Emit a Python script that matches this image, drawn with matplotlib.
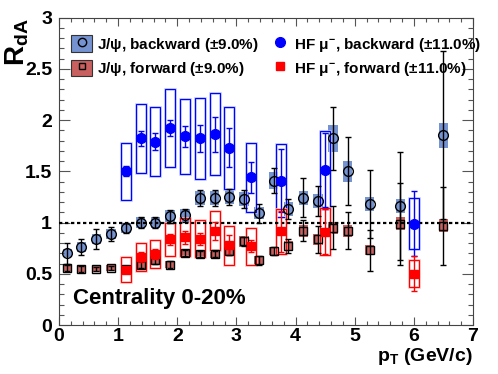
import matplotlib
matplotlib.use("Agg")
import matplotlib.pyplot as plt
from matplotlib.lines import Line2D
from matplotlib.patches import Rectangle
from matplotlib.ticker import MultipleLocator
import numpy as np

plt.rcParams["font.family"] = ["Liberation Sans", "DejaVu Sans"]
plt.rcParams["font.weight"] = "bold"
plt.rcParams["axes.labelweight"] = "bold"
plt.rcParams["mathtext.fontset"] = "custom"
plt.rcParams["mathtext.rm"] = "Liberation Sans:bold"
plt.rcParams["mathtext.it"] = "Liberation Sans:bold"
plt.rcParams["mathtext.bf"] = "Liberation Sans:bold"

# ── J/psi (backward / forward share the pT bins) ─────────────────────────────
jpsi_pt = [0.14, 0.38, 0.63, 0.88, 1.13, 1.38, 1.63, 1.88, 2.13, 2.38, 2.63, 2.88,
           3.13, 3.38, 3.63, 3.88, 4.13, 4.38, 4.63, 4.88, 5.25, 5.77, 6.5]

jpsi_bwd      = [0.70, 0.76, 0.84, 0.89, 0.95, 1.00, 1.00, 1.06, 1.07, 1.24, 1.24, 1.25,
                 1.23, 1.09, 1.41, 1.13, 1.24, 1.21, 1.82, 1.50, 1.18, 1.16, 1.85]
jpsi_bwd_stat = [0.10, 0.08, 0.10, 0.07, 0.05, 0.05, 0.05, 0.06, 0.06, 0.08, 0.08, 0.08,
                 0.09, 0.09, 0.12, 0.10, 0.19, 0.15, 0.31, 0.33, 0.33, 0.53, 0.82]
jpsi_bwd_syst = [0.04, 0.05, 0.05, 0.05, 0.05, 0.05, 0.05, 0.06, 0.06, 0.07, 0.07, 0.07,
                 0.07, 0.06, 0.08, 0.07, 0.07, 0.07, 0.13, 0.10, 0.07, 0.07, 0.12]

jpsi_fwd      = [0.56, 0.55, 0.55, 0.56, 0.55, 0.59, 0.63, 0.59, 0.70, 0.69, 0.69, 0.72,
                 0.815, 0.63, 0.72, 0.77, 0.92, 0.835, 0.95, 0.92, 0.73, 0.99, 0.97]
jpsi_fwd_stat = [0.03, 0.03, 0.02, 0.02, 0.03, 0.03, 0.03, 0.03, 0.03, 0.03, 0.03, 0.04,
                 0.04, 0.04, 0.04, 0.07, 0.10, 0.13, 0.21, 0.18, 0.20, 0.40, 0.38]
jpsi_fwd_syst = [0.03, 0.03, 0.03, 0.03, 0.03, 0.04, 0.04, 0.03, 0.04, 0.04, 0.04, 0.04,
                 0.05, 0.04, 0.04, 0.05, 0.06, 0.05, 0.06, 0.06, 0.05, 0.06, 0.06]

# ── heavy-flavour muons ──────────────────────────────────────────────────────
hf_pt = [1.13, 1.38, 1.63, 1.88, 2.13, 2.38, 2.63, 2.88, 3.25, 3.75, 4.5, 6.0]

hf_bwd      = [1.50, 1.82, 1.79, 1.92, 1.84, 1.82, 1.86, 1.73, 1.44, 1.41, 1.51, 0.99]
hf_bwd_stat = [0.05, 0.075, 0.08, 0.08, 0.10, 0.13, 0.17, 0.19, 0.15, 0.31, 0.36, 0.32]
hf_bwd_syst = [0.28, 0.34, 0.34, 0.38, 0.37, 0.40, 0.40, 0.40, 0.34, 0.36, 0.38, 0.25]

hf_fwd      = [0.54, 0.665, 0.69, 0.835, 0.855, 0.84, 0.92, 0.78, 0.77, 0.915, 0.91, 0.50]
hf_fwd_stat = [0.03, 0.05, 0.05, 0.05, 0.06, 0.06, 0.09, 0.10, 0.06, 0.20, 0.22, 0.17]
hf_fwd_syst = [0.12, 0.135, 0.135, 0.165, 0.185, 0.18, 0.19, 0.19, 0.18, 0.22, 0.23, 0.13]

BLUE_BOX = "#7493d0"
RED_BOX = "#c8605f"

fig = plt.figure(figsize=(4.98, 3.74), dpi=100)
ax = fig.add_axes([0.1185, 0.131, 0.8313, 0.822])


def boxes(x, y, s, width, **kw):
    y, s = np.asarray(y), np.asarray(s)
    return ax.bar(x, 2 * s, bottom=y - s, width=width, **kw)


# J/psi systematic boxes (filled)
boxes(jpsi_pt, jpsi_bwd, jpsi_bwd_syst, 0.16, color=BLUE_BOX, zorder=1)
boxes(jpsi_pt, jpsi_fwd, jpsi_fwd_syst, 0.16, color=RED_BOX, zorder=1)

# HF systematic boxes (open, with a soft halo like the original)
for y, s, c, halo in [(hf_bwd, hf_bwd_syst, "#0000ff", "#b8c2ff"),
                      (hf_fwd, hf_fwd_syst, "#ff0000", "#ffbcbc")]:
    boxes(hf_pt, y, s, 0.17, fill=False, edgecolor=halo, lw=1.8, zorder=2)
    boxes(hf_pt, y, s, 0.17, fill=False, edgecolor=c, lw=0.8, zorder=2)

ax.axhline(1, color="black", ls=(0, (1.5, 1.2)), lw=1.6, zorder=3)

# statistical errors + markers
eb = dict(fmt="none", capsize=2.5, elinewidth=1, capthick=1, zorder=4)
ax.errorbar(jpsi_pt, jpsi_bwd, yerr=jpsi_bwd_stat, ecolor="black", **eb)
ax.errorbar(jpsi_pt, jpsi_fwd, yerr=jpsi_fwd_stat, ecolor="black", **eb)
ax.plot(jpsi_pt, jpsi_bwd, ls="none", marker="o", ms=7, mfc="none", mec="black",
        mew=1, zorder=5)
ax.plot(jpsi_pt, jpsi_fwd, ls="none", marker="s", ms=5.5, mfc="none", mec="black",
        mew=1, zorder=5)

ax.errorbar(hf_pt, hf_bwd, yerr=hf_bwd_stat, ecolor="blue", **eb)
ax.errorbar(hf_pt, hf_fwd, yerr=hf_fwd_stat, ecolor="red", **eb)
ax.plot(hf_pt, hf_bwd, ls="none", marker="o", ms=7, color="blue", zorder=6)
ax.plot(hf_pt, hf_fwd, ls="none", marker="s", ms=6, color="red", zorder=6)

# axes in ROOT style
ax.set_xlim(0, 7)
ax.set_ylim(0, 3)
ax.xaxis.set_major_locator(MultipleLocator(1))
ax.xaxis.set_minor_locator(MultipleLocator(0.2))
ax.yaxis.set_minor_locator(MultipleLocator(0.1))
ax.set_yticks([0, 0.5, 1, 1.5, 2, 2.5, 3])
ax.set_yticklabels(["0", "0.5", "1", "1.5", "2", "2.5", "3"])
ax.tick_params(which="both", direction="in", top=True, right=True, labelsize=14,
               width=0.8, color="#555555")
ax.tick_params(axis="x", which="major", length=5.8, pad=2)
ax.tick_params(axis="x", which="minor", length=2.9)
ax.tick_params(axis="y", which="major", length=8, pad=5)
ax.tick_params(axis="y", which="minor", length=3.6)
for lab in ax.get_xticklabels() + ax.get_yticklabels():
    lab.set_fontweight("bold")
for sp in ax.spines.values():
    sp.set_linewidth(0.8)
    sp.set_color("#444444")

ax.set_xlabel(r"p$_{\mathrm{T}}$ (GeV/c)", fontsize=14, loc="right", labelpad=1)
fig.text(0.034, 0.95, r"R$_{\mathrm{dA}}$", rotation=90, fontsize=20,
         ha="center", va="top")

ax.text(0.034, 0.068, "Centrality 0-20%", transform=ax.transAxes, fontsize=16,
        ha="left", va="baseline")

# legend
h_jb = (Rectangle((0, 0), 1, 1, facecolor=BLUE_BOX, edgecolor="#333333", lw=0.8),
        Line2D([], [], ls="none", marker="o", ms=6, mfc="none", mec="black", mew=1))
h_jf = (Rectangle((0, 0), 1, 1, facecolor=RED_BOX, edgecolor="#333333", lw=0.8),
        Line2D([], [], ls="none", marker="s", ms=5, mfc="none", mec="black", mew=1))
h_hb = Line2D([], [], ls="none", marker="o", ms=7, color="blue")
h_hf = Line2D([], [], ls="none", marker="s", ms=6, color="red")
ax.legend([h_jb, h_jf, h_hb, h_hf],
          [r"J/$\psi$, backward ($\pm$9.0%)", r"J/$\psi$, forward ($\pm$9.0%)",
           r"HF $\mu^{-}$, backward ($\pm$11.0%)", r"HF $\mu^{-}$, forward ($\pm$11.0%)"],
          ncol=2, loc="upper left", bbox_to_anchor=(0.03, 0.943), frameon=False,
          fontsize=11, handlelength=1.35, handleheight=1.3, handletextpad=0.3,
          columnspacing=0.7, labelspacing=0.4, borderaxespad=0, borderpad=0)

fig.savefig("out.png", dpi=100)
